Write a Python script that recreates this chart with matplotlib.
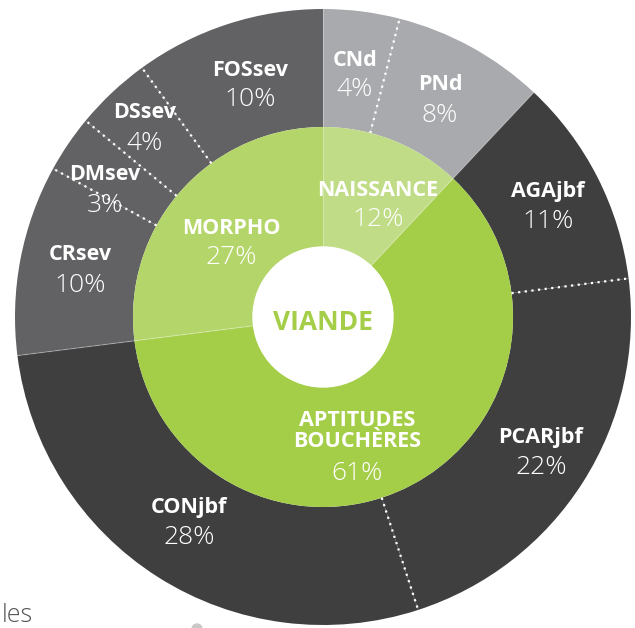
import numpy as np
import matplotlib.pyplot as plt
from matplotlib.patches import Circle

# inner ring (groups)
groups = ['NAISSANCE', 'APTITUDES\nBOUCHÈRES', 'MORPHO']
group_vals = [12, 61, 27]
group_colors = ['#c0dc87', '#a4cd48', '#b4d56a']

# outer ring (criteria), in the same order as the groups
crit = ['CNd', 'PNd', 'AGAjbf', 'PCARjbf', 'CONjbf', 'CRsev', 'DMsev', 'DSsev', 'FOSsev']
crit_vals = [4, 8, 11, 22, 28, 10, 3, 4, 10]
crit_group = [0, 0, 1, 1, 1, 2, 2, 2, 2]
ring_colors = ['#a9aaad', '#3f3f40', '#626164']

W, H = 635, 628
cx, cy = 323, 311
R_out, R_mid, R_in = 308, 190, 70

# label anchors in pixels from the top-left (layout only)
crit_pos = [(355, 75), (440, 100), (548, 207), (541, 452), (189, 522),
            (80, 270), (105, 190), (145, 128), (250, 85)]
group_pos = [(378, 205), (357, 446), (231, 243)]

plt.rcParams['font.family'] = ['Open Sans', 'DejaVu Sans']
fig = plt.figure(figsize=(W / 100, H / 100), dpi=100)
ax = fig.add_axes([0, 0, 1, 1])

outer_cols = [ring_colors[g] for g in crit_group]
ax.pie(crit_vals, radius=R_out, center=(cx, cy), startangle=90, counterclock=False,
       colors=outer_cols, wedgeprops=dict(width=R_out - R_mid, linewidth=0))
ax.pie(group_vals, radius=R_mid, center=(cx, cy), startangle=90, counterclock=False,
       colors=group_colors, wedgeprops=dict(width=R_mid - R_in, linewidth=0))
ax.add_patch(Circle((cx, cy), R_in, color='white', zorder=3))


def ang(pct):
    return np.deg2rad(90 - 3.6 * pct)


# boundaries: faint solid between groups, white dotted inside a group
cum = np.cumsum(crit_vals)
for i in range(len(crit_vals)):
    a = ang(cum[i])
    nxt = crit_group[(i + 1) % len(crit_vals)]
    if nxt != crit_group[i]:
        ax.plot([cx + R_in * np.cos(a), cx + R_out * np.cos(a)],
                [cy + R_in * np.sin(a), cy + R_out * np.sin(a)],
                color='white', lw=0.8, alpha=0.3, zorder=2)
    else:
        ax.plot([cx + R_mid * np.cos(a), cx + (R_out + 2) * np.cos(a)],
                [cy + R_mid * np.sin(a), cy + (R_out + 2) * np.sin(a)],
                color='white', lw=1.6, ls=(0, (1, 2)), zorder=2)

name_kw = dict(ha='center', va='center', color='white', fontsize=15.5, fontweight='bold', zorder=4)
pct_kw = dict(ha='center', va='center', color='white', fontsize=19, fontweight='light', zorder=4)

for name, v, (px, py) in zip(crit, crit_vals, crit_pos):
    ax.text(px, H - py + 15, name, **name_kw)
    ax.text(px, H - py - 15, f'{v}%', **pct_kw)

for name, v, (px, py) in zip(groups, group_vals, group_pos):
    if '\n' in name:
        ax.text(px, H - py + 15, name, linespacing=0.95, **name_kw)
        ax.text(px, H - py - 27, f'{v}%', **pct_kw)
    else:
        ax.text(px, H - py + 15, name, **name_kw)
        ax.text(px, H - py - 15, f'{v}%', **pct_kw)

ax.text(cx, cy - 5, 'VIANDE', ha='center', va='center', color='#a4cd48',
        fontsize=19, fontweight='bold', zorder=4)

# page leftovers from the cropped screenshot
ax.text(2, 12, 'les', ha='left', va='center', color='#555555', fontsize=18, fontweight='light')
ax.add_patch(Circle((197, -1), 5, color='#c8c8c8'))

ax.set_xlim(0, W)
ax.set_ylim(0, H)
ax.set_aspect('equal')
ax.axis('off')
fig.savefig('out.png', dpi=100)
